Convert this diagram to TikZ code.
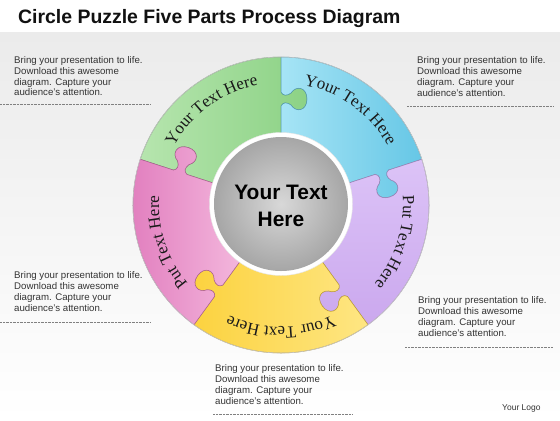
\documentclass[tikz,border=0pt]{standalone}
\usepackage{fontspec}
\setmainfont{Liberation Sans}
\newfontfamily\serifcurve{Liberation Serif}
\usetikzlibrary{decorations.text}
\definecolor{bgtop}{HTML}{EBEBEB}
\definecolor{txtgray}{HTML}{333333}
\definecolor{titlec}{HTML}{111111}
\definecolor{gL}{HTML}{B6E5AE}\definecolor{gR}{HTML}{8CD285}
\definecolor{bL}{HTML}{A6E4F5}\definecolor{bR}{HTML}{66C7E6}
\definecolor{pL}{HTML}{DCC3F7}\definecolor{pR}{HTML}{CBA8EE}
\definecolor{yL}{HTML}{FCD23E}\definecolor{yR}{HTML}{FEE683}
\definecolor{kL}{HTML}{E07ABC}\definecolor{kR}{HTML}{F4B9DE}
\definecolor{grayIn}{HTML}{D8D8D8}\definecolor{grayOut}{HTML}{A6A6A6}
\definecolor{curvetext}{HTML}{1A1A1A}
\def\pzr{60}\def\pzR{148}\def\pzk{106}
\newcommand\pzP[3]{({#1+atan2(#3,#2)}:{veclen(#2,#3)})}
\newcommand\pzOut[1]{%
 -- \pzP{#1}{\pzk-7}{0}
 .. controls \pzP{#1}{\pzk-3}{-2} and \pzP{#1}{\pzk-3}{-6} .. \pzP{#1}{\pzk-6}{-10}
 .. controls \pzP{#1}{\pzk-14}{-15} and \pzP{#1}{\pzk-12}{-26} .. \pzP{#1}{\pzk}{-26}
 .. controls \pzP{#1}{\pzk+12}{-26} and \pzP{#1}{\pzk+14}{-15} .. \pzP{#1}{\pzk+6}{-10}
 .. controls \pzP{#1}{\pzk+3}{-6} and \pzP{#1}{\pzk+3}{-2} .. \pzP{#1}{\pzk+7}{0}
 -- \pzP{#1}{\pzR}{0}}
\newcommand\pzIn[1]{%
 -- \pzP{#1}{\pzk+7}{0}
 .. controls \pzP{#1}{\pzk+3}{-2} and \pzP{#1}{\pzk+3}{-6} .. \pzP{#1}{\pzk+6}{-10}
 .. controls \pzP{#1}{\pzk+14}{-15} and \pzP{#1}{\pzk+12}{-26} .. \pzP{#1}{\pzk}{-26}
 .. controls \pzP{#1}{\pzk-12}{-26} and \pzP{#1}{\pzk-14}{-15} .. \pzP{#1}{\pzk-6}{-10}
 .. controls \pzP{#1}{\pzk-3}{-6} and \pzP{#1}{\pzk-3}{-2} .. \pzP{#1}{\pzk-7}{0}
 -- \pzP{#1}{\pzr}{0}}
\newcommand\pzPiece[1]{% #1 = clockwise boundary angle
 \pzP{#1}{\pzr}{0} \pzOut{#1}
 arc[start angle=#1, end angle=#1+72, radius=\pzR]
 \pzIn{#1+72}
 arc[start angle=#1+72, end angle=#1, radius=\pzr] -- cycle}
\newcommand\curvefont{\serifcurve\fontsize{17}{17}\selectfont}
\tikzset{
 piece/.style={line width=0.5bp},
 desc/.style={anchor=north west, align=left, inner sep=0pt, text=txtgray,
   font=\fontsize{9.7}{11}\selectfont},
 sep/.style={draw=black!50, line width=0.6bp, dash pattern=on 0.8bp off 0.6bp},
 titlestyle/.style={anchor=base west, inner sep=0pt, text=titlec,
   font=\bfseries\fontsize{19.5}{20}\selectfont},
 curvetxt/.style={decorate, decoration={text along path, text align=center,
   text color=curvetext, text={|\curvefont|#1}}}
}
\begin{document}
\begin{tikzpicture}[x=1bp,y=1bp]
\useasboundingbox (0,0) rectangle (560,-420);
\fill[white] (0,0) rectangle (560,-420);
\shade[top color=bgtop, bottom color=white] (0,-32) rectangle (560,-420);
\node[titlestyle] (title) at (18,-23) {Circle Puzzle Five Parts Process Diagram};
\begin{scope}[shift={(281,-205)}]
 \path[piece, left color=gL, right color=gR, draw=gR!75!black] \pzPiece{90};
 \path[piece, left color=bL, right color=bR, draw=bR!75!black] \pzPiece{18};
 \path[piece, top color=pL, bottom color=pR, draw=pR!75!black] \pzPiece{-54};
 \path[piece, left color=yL, right color=yR, draw=yL!75!black] \pzPiece{-126};
 \path[piece, left color=kL, right color=kR, draw=kL!75!black] \pzPiece{162};
 \draw[black!22, line width=0.6bp] (0,0) circle[radius=148];
 \path[curvetxt={Your Text Here}] (162:122) arc[start angle=162, end angle=90, radius=122];
 \path[curvetxt={Your Text Here}] (90:122) arc[start angle=90, end angle=18, radius=122];
 \path[curvetxt={Put Text Here}] (18:122) arc[start angle=18, end angle=-54, radius=122];
 \path[curvetxt={Your Text Here}] (-54:122) arc[start angle=-54, end angle=-126, radius=122];
 \path[curvetxt={Put Text Here}] (234:122) arc[start angle=234, end angle=162, radius=122];
 \fill[white, draw=black!10] (0,1) circle[radius=71.5];
 \shade[inner color=grayIn, outer color=grayOut] (0,1) circle[radius=67];
\end{scope}
\node[anchor=north, align=center, inner sep=0pt, text=black,
  font=\bfseries\fontsize{21}{27}\selectfont] (center) at (281,-185) {Your Text\\Here};
\node[desc] (d1) at (14,-55.9) {Bring your presentation to life.\\Download this awesome\\diagram. Capture your\\audience’s attention.};
\node[desc] (d2) at (417,-56.2) {Bring your presentation to life.\\Download this awesome\\diagram. Capture your\\audience’s attention.};
\node[desc] (d3) at (14,-271.2) {Bring your presentation to life.\\Download this awesome\\diagram. Capture your\\audience’s attention.};
\node[desc] (d4) at (418,-296.2) {Bring your presentation to life.\\Download this awesome\\diagram. Capture your\\audience’s attention.};
\node[desc] (d5) at (215,-364.6) {Bring your presentation to life.\\Download this awesome\\diagram. Capture your\\audience’s attention.};
\draw[sep] (0,-104) -- (150,-104);
\draw[sep] (407,-106) -- (553,-106);
\draw[sep] (0,-322) -- (150,-322);
\draw[sep] (405,-347) -- (553,-347);
\draw[sep] (213,-414) -- (352,-414);
\node[anchor=base west, inner sep=0pt, text=txtgray, font=\fontsize{8.5}{10}\selectfont] (logo) at (502,-410) {Your Logo};
\end{tikzpicture}
\end{document}
